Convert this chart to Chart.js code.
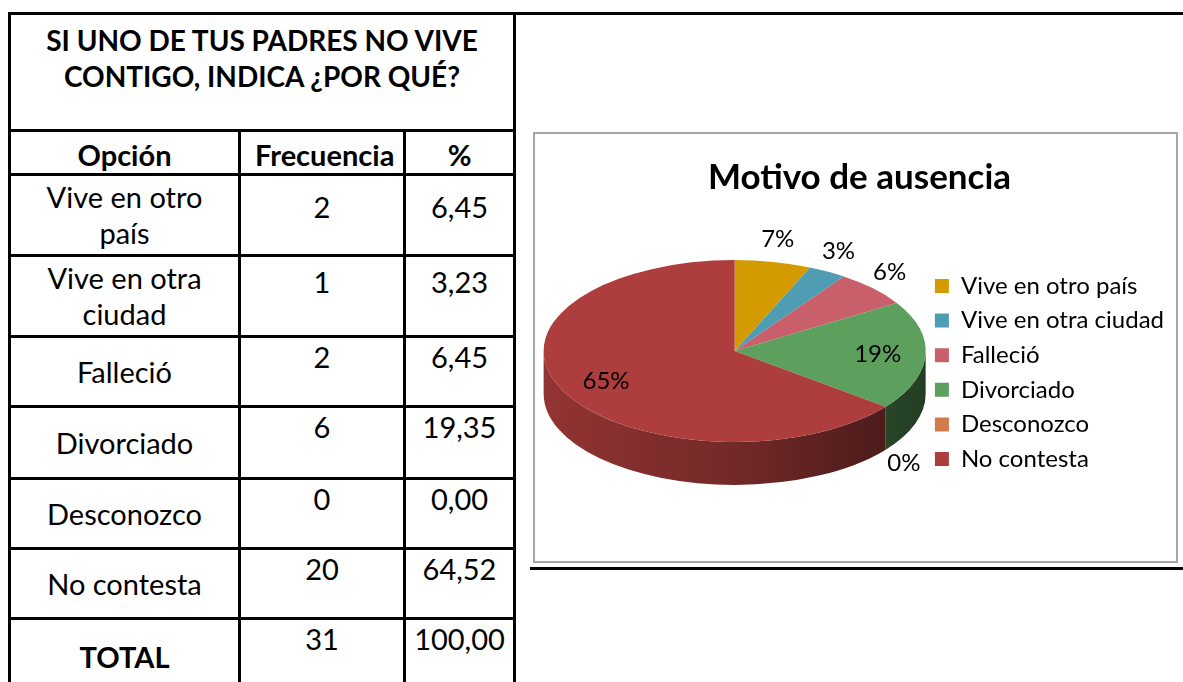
<!DOCTYPE html>
<html>
<head>
<meta charset="utf-8">
<script src="https://cdn.jsdelivr.net/npm/chart.js@4.4.1/dist/chart.umd.min.js"></script>
<style>
  body { margin: 0; width: 1183px; height: 682px; position: relative; overflow: hidden; background: #fff; font-family: Lato, sans-serif; color: #000; }
  .line { position: absolute; background: #000; }
  #tbl { position: absolute; left: 8px; top: 12px; width: 508px; border-collapse: collapse; table-layout: fixed; font-size: 29px; }
  #tbl td { border: 3px solid #000; padding: 0 14px; text-align: center; line-height: 36px; }
  #tbl .title td { font-weight: bold; vertical-align: top; padding-top: 7px; font-size: 28px; }
  #tbl .head td { font-weight: bold; vertical-align: middle; padding-top: 4px; }
  #tbl td.opt { vertical-align: middle; }
  #tbl td.num { vertical-align: top; line-height: 30px; padding-left: 2px; padding-right: 2px; }
  #chartBox { position: absolute; left: 533px; top: 132px; width: 641px; height: 427px; border: 2px solid #a6a6a6; }
  #chart { display: block; }
</style>
</head>
<body>
<div class="line" style="left:8px; top:12px; width:1175px; height:3px;"></div>
<div class="line" style="left:530px; top:567px; width:653px; height:3px;"></div>
<table id="tbl">
  <colgroup><col style="width:230px"><col style="width:165px"><col style="width:110px"></colgroup>
  <tbody id="rows">
    <tr class="title" style="height:117px"><td colspan="3">SI UNO DE TUS PADRES NO VIVE<br>CONTIGO, INDICA ¿POR QUÉ?</td></tr>
    <tr class="head" style="height:44px"><td>Opción</td><td>Frecuencia</td><td>%</td></tr>
  </tbody>
</table>
<div id="chartBox"><canvas id="chart" width="641" height="427"></canvas></div>
<script>
// survey answers
const categories = ["Vive en otro país", "Vive en otra ciudad", "Falleció", "Divorciado", "Desconozco", "No contesta"];
const frequencies = [2, 1, 2, 6, 0, 20];
const percentages = ["6,45", "3,23", "6,45", "19,35", "0,00", "64,52"];
const totalFrequency = 31;
const totalPercent = "100,00";
// rounded labels as printed on the pie
const sliceLabels = ["7%", "3%", "6%", "19%", "0%", "65%"];

// table body
(() => {
  const body = document.getElementById("rows");
  const rowHeights = [81, 81, 70, 72, 70, 70];
  const numPad = [16, 10, 4, 4, 4, 4];
  categories.forEach((cat, i) => {
    const tr = document.createElement("tr");
    tr.style.height = rowHeights[i] + "px";
    tr.innerHTML = `<td class="opt">${cat}</td>` +
      `<td class="num" style="padding-top:${numPad[i]}px">${frequencies[i]}</td>` +
      `<td class="num" style="padding-top:${numPad[i]}px">${percentages[i]}</td>`;
    body.appendChild(tr);
  });
  const tr = document.createElement("tr");
  tr.style.height = "76px";
  tr.innerHTML = `<td class="opt" style="font-weight:bold">TOTAL</td>` +
    `<td class="num" style="padding-top:4px">${totalFrequency}</td>` +
    `<td class="num" style="padding-top:4px">${totalPercent}</td>`;
  body.appendChild(tr);
})();

// darken an rgb hex colour
const shade = (hex, f) => {
  const n = parseInt(hex.slice(1), 16);
  const r = Math.round(((n >> 16) & 255) * f);
  const g = Math.round(((n >> 8) & 255) * f);
  const b = Math.round((n & 255) * f);
  return `rgb(${r},${g},${b})`;
};

// fake 3D: squash the pie into an ellipse and add a side wall
const pie3d = {
  id: "pie3d",
  beforeDatasetDraw(chart, args, opts) {
    const arcs = args.meta.data;
    if (!arcs.length) return;
    const ctx = chart.ctx;
    const { x: cx, y: cy, outerRadius: r } = arcs[0];
    const ry = r * opts.tilt;
    const d = opts.depth;
    const ey = cy - d / 2;
    const colors = chart.data.datasets[args.index].backgroundColor;
    arcs.forEach((arc, i) => {
      const a0 = arc.startAngle, a1 = arc.endAngle;
      [0, 2 * Math.PI, -2 * Math.PI].forEach((base) => {
        const s = Math.max(a0, base), e = Math.min(a1, base + Math.PI);
        if (e <= s) return;
        const grad = ctx.createLinearGradient(cx - r, 0, cx + r, 0);
        grad.addColorStop(0, shade(colors[i], 0.84));
        grad.addColorStop(0.5, shade(colors[i], 0.66));
        grad.addColorStop(1, shade(colors[i], 0.38));
        ctx.beginPath();
        ctx.ellipse(cx, ey, r, ry, 0, s, e, false);
        ctx.ellipse(cx, ey + d, r, ry, 0, e, s, true);
        ctx.closePath();
        ctx.fillStyle = grad;
        ctx.fill();
      });
    });
    ctx.save();
    ctx.translate(cx, ey);
    ctx.scale(1, opts.tilt);
    ctx.translate(-cx, -cy);
  },
  afterDatasetDraw(chart, args, opts) {
    const ctx = chart.ctx;
    ctx.restore();
    const arcs = args.meta.data;
    if (!arcs.length) return;
    const { x: cx, y: cy, outerRadius: r } = arcs[0];
    const ry = r * opts.tilt;
    const d = opts.depth;
    const ey = cy - d / 2;
    const data = chart.data.datasets[args.index].data;
    const total = data.reduce((a, b) => a + b, 0);
    ctx.save();
    ctx.font = opts.font;
    ctx.fillStyle = "#000";
    ctx.textAlign = "center";
    ctx.textBaseline = "middle";
    arcs.forEach((arc, i) => {
      const mid = (arc.startAngle + arc.endAngle) / 2;
      const c = Math.cos(mid), s = Math.sin(mid);
      let x, y;
      if (data[i] / total >= 0.1) {
        x = cx + 0.75 * r * c;
        y = ey + 0.75 * ry * s;
      } else {
        x = cx + 1.12 * r * c;
        y = ey + 1.25 * ry * s + (s > 0 ? d : 0);
      }
      ctx.fillText(opts.labels[i], x, y);
    });
    ctx.restore();
  }
};

new Chart(document.getElementById("chart"), {
  type: "pie",
  data: {
    labels: categories,
    datasets: [{
      data: frequencies,
      backgroundColor: ["#d49b00", "#4f9db3", "#c85f6b", "#5da05d", "#d27a4a", "#ae3e3d"],
      borderWidth: 0,
      radius: 191
    }]
  },
  options: {
    responsive: false,
    animation: false,
    events: [],
    layout: { padding: { left: 10, right: 2, top: 0, bottom: 25 } },
    plugins: {
      title: {
        display: true,
        text: "Motivo de ausencia",
        color: "#000",
        font: { family: "Lato", weight: "bold", size: 35 },
        padding: { top: 23, bottom: 10 }
      },
      legend: {
        position: "right",
        align: "center",
        fullSize: false,
        labels: {
          boxWidth: 14,
          boxHeight: 14,
          padding: 10.6,
          color: "#000",
          font: { family: "Lato", size: 24 }
        }
      },
      tooltip: { enabled: false },
      pie3d: { tilt: 0.476, depth: 43, labels: sliceLabels, font: "24px Lato" }
    }
  },
  plugins: [pie3d]
});
</script>
</body>
</html>
